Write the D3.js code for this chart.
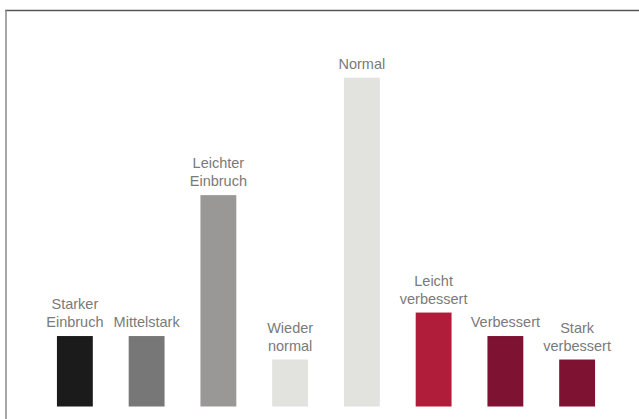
<!DOCTYPE html>
<html>
<head>
<meta charset="utf-8">
<script src="https://cdn.jsdelivr.net/npm/d3@7"></script>
<style>
  html, body { margin: 0; padding: 0; background: #fff; }
  svg { display: block; }
  .label { font-family: "Liberation Sans", Arial, sans-serif; font-size: 14.5px; fill: #7a7a7a; }
</style>
</head>
<body>
<div id="chart"></div>
<script>
// categories (label lines) and values
const categories = ["Starker Einbruch", "Mittelstark", "Leichter Einbruch", "Wieder normal",
                    "Normal", "Leicht verbessert", "Verbessert", "Stark verbessert"];
const labelLines = [["Starker", "Einbruch"], ["Mittelstark"], ["Leichter", "Einbruch"], ["Wieder", "normal"],
                    ["Normal"], ["Leicht", "verbessert"], ["Verbessert"], ["Stark", "verbessert"]];
const values = [3, 3, 9, 2, 14, 4, 3, 2];
const colors = ["#1b1b1b", "#777777", "#9a9896", "#e2e2df", "#e2e2df", "#b01d3b", "#7d1232", "#7d1232"];

const width = 639, height = 419;

const svg = d3.select("#chart")
    .append("svg")
    .attr("width", width)
    .attr("height", height);

// frame: top and left edge only
svg.append("line")
    .attr("x1", 5).attr("x2", width).attr("y1", 10.5).attr("y2", 10.5)
    .attr("stroke", "#555").attr("stroke-width", 1.5);
svg.append("line")
    .attr("x1", 6).attr("x2", 6).attr("y1", 10).attr("y2", height)
    .attr("stroke", "#888").attr("stroke-width", 1.5);

const x = d3.scaleBand()
    .domain(categories)
    .range([39, 613])
    .paddingInner(0.5)
    .paddingOuter(0.25);

const y = d3.scaleLinear()
    .domain([0, 14])
    .range([406.5, 77.7]);

const bar = svg.append("g")
    .selectAll("g")
    .data(categories)
    .enter().append("g");

bar.append("rect")
    .attr("x", d => x(d))
    .attr("width", x.bandwidth())
    .attr("y", (d, i) => y(values[i]))
    .attr("height", (d, i) => y(0) - y(values[i]))
    .style("fill", (d, i) => colors[i]);

bar.append("text")
    .attr("class", "label")
    .attr("text-anchor", "middle")
    .attr("x", d => x(d) + x.bandwidth() / 2)
    .attr("y", (d, i) => y(values[i]) - 9)
    .selectAll("tspan")
    .data((d, i) => labelLines[i].map((t, k, arr) => ({t: t, off: k - arr.length + 1})))
    .enter().append("tspan")
    .attr("x", function() { return this.parentNode.getAttribute("x"); })
    .attr("dy", (d, k) => k === 0 ? (d.off * 18) + "px" : "18px")
    .text(d => d.t);
</script>
</body>
</html>
